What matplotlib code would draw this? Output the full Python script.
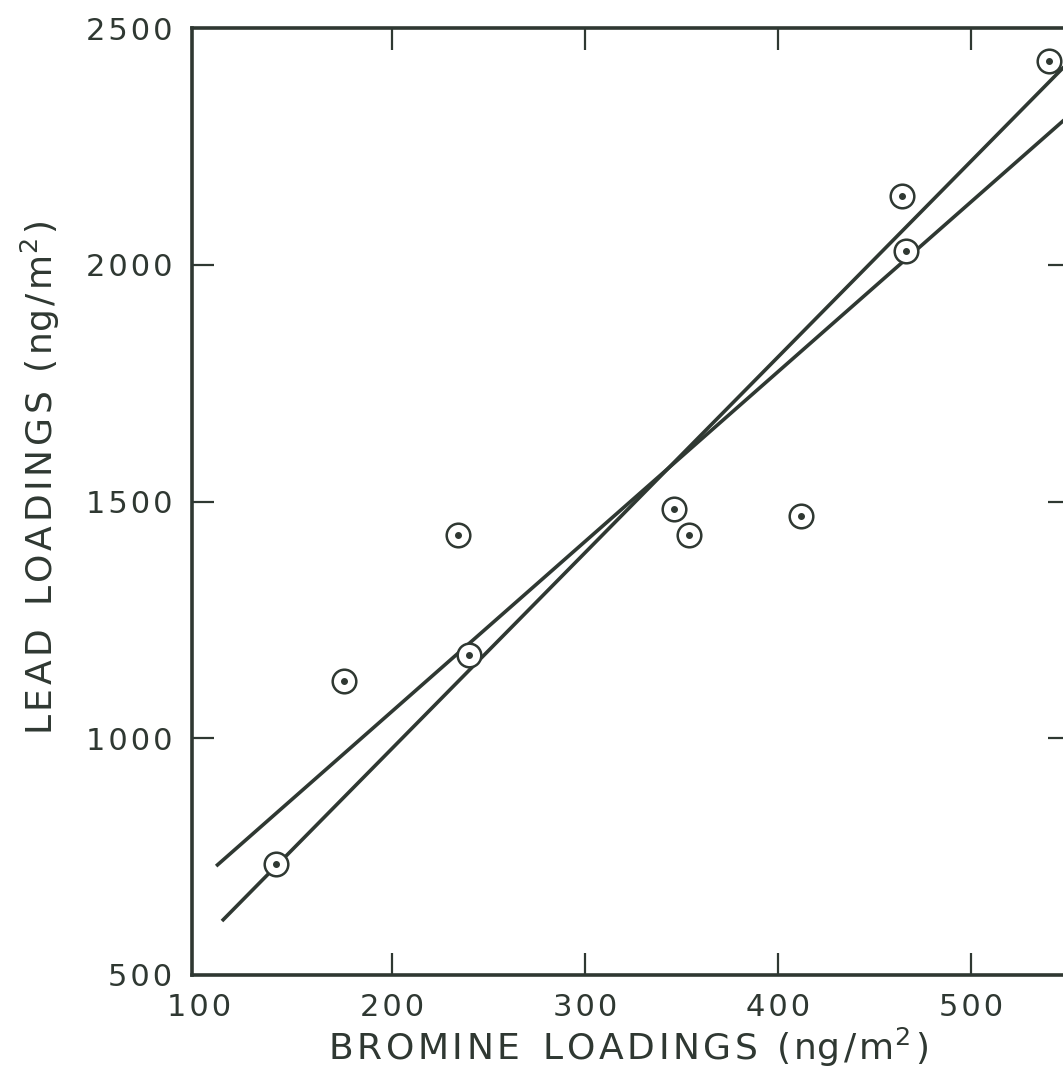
import matplotlib
matplotlib.use("Agg")
import matplotlib.pyplot as plt

# Data
bromine = [140, 175, 234, 240, 346, 354, 412, 464, 466, 540]
lead = [735, 1120, 1430, 1175, 1485, 1430, 1470, 2145, 2030, 2430]

# Two fitted lines (end points)
fit_steep_x = [112, 560]
fit_steep_y = [614, 2468]
fit_shallow_x = [109, 560]
fit_shallow_y = [730, 2349]

xticks = [100, 200, 300, 400, 500]
yticks = [500, 1000, 1500, 2000, 2500]

ink = "#2f3832"
HS = "\u200a"  # hair space for wide letter spacing
plt.rcParams['font.family'] = ['DejaVu Sans']


def spaced(s):
    return HS.join(s)


fig = plt.figure(figsize=(10.63, 10.86), dpi=100)
ax = fig.add_axes([192/1063, 111/1086, (1070-192)/1063, (975-28)/1086])

ax.plot(fit_steep_x, fit_steep_y, color=ink, lw=2.6, solid_capstyle='butt', zorder=2)
ax.plot(fit_shallow_x, fit_shallow_y, color=ink, lw=2.6, solid_capstyle='butt', zorder=2)
ax.plot(bromine, lead, linestyle='none', marker='o', markersize=17, mfc='white',
        mec=ink, mew=1.8, zorder=3)
ax.plot(bromine, lead, linestyle='none', marker='o', markersize=4, mfc=ink,
        mec=ink, zorder=4)

ax.set_xlim(96.5, 551)
ax.set_ylim(500, 2500)
ax.set_xticks(xticks)
ax.set_yticks(yticks)
ax.set_xticklabels([spaced(str(v)) for v in xticks])
ax.set_yticklabels([spaced(str(v)) for v in yticks])
for s in ax.spines.values():
    s.set_linewidth(2.6)
    s.set_color(ink)
ax.tick_params(direction='in', length=16, width=1.6, color=ink, labelcolor=ink,
               labelsize=22, top=True, right=True, pad=14)
ax.tick_params(axis='x', pad=13)
# hide tick marks sitting on the spines
xt = ax.xaxis.get_major_ticks()
xt[0].tick1line.set_visible(False)
xt[0].tick2line.set_visible(False)
yt = ax.yaxis.get_major_ticks()
for i in (0, -1):
    yt[i].tick1line.set_visible(False)
    yt[i].tick2line.set_visible(False)

unit = HS.join(["(", "ng", "/", "m$^2$", ")"])
xlabel = spaced("BROMINE") + "  " + spaced("LOADINGS") + HS + " " + HS + unit
ylabel = spaced("LEAD") + "  " + spaced("LOADINGS") + HS + " " + HS + unit
fig.text(628/1063, 1 - 1047/1086, xlabel, ha='center', va='center',
         fontsize=26, color=ink)
fig.text(40/1063, 1 - 478/1086, ylabel, ha='center', va='center',
         fontsize=26, color=ink, rotation=90)

fig.savefig("out.png", dpi=100)
